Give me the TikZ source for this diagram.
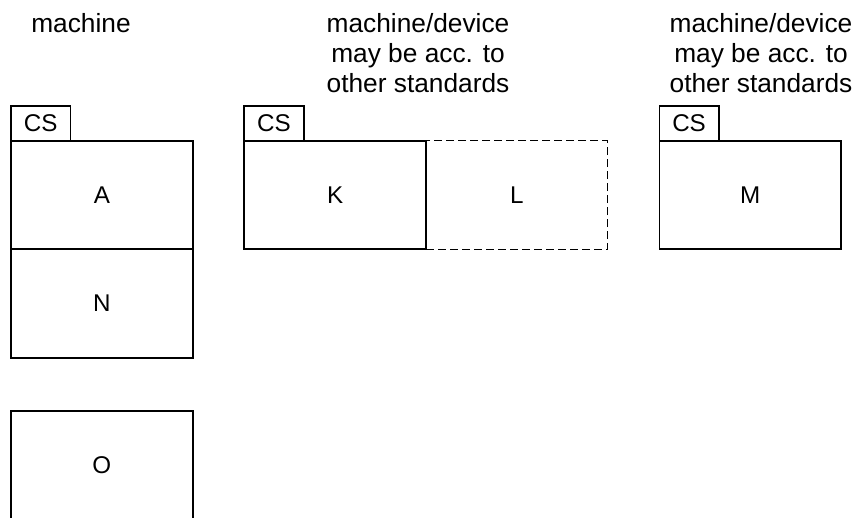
\documentclass[tikz,border=0pt]{standalone}
\usepackage{fontspec}
\setmainfont{Liberation Sans}
\begin{document}
\begin{tikzpicture}[x=1pt,y=-1pt,
  lbl/.style={font=\fontsize{24.2}{29}\selectfont},
  box/.style={draw, line width=1.6pt, minimum width=181.8pt, minimum height=108.5pt,
    inner sep=0pt, outer sep=0pt, lbl},
  dbox/.style={box, line width=1pt, dash pattern=on 8pt off 4pt},
  tab/.style={draw, line width=1.6pt, minimum width=59.5pt, minimum height=35pt,
    inner sep=0pt, outer sep=0pt, anchor=south west, lbl},
  head/.style={anchor=north, align=center, inner sep=0pt,
    font=\fontsize{26.3}{30}\selectfont}]
\useasboundingbox (0,0) rectangle (856,517);
% headings
\node[head] (h1) at (81,12.8) {machine};
\node[head] (h2) at (418,12.8) {machine/device\\may be acc. to\\other standards};
\node[head] (h3) at (761,12.8) {machine/device\\may be acc. to\\other standards};
% left column
\node[box] (A) at (101.9,195) {A};
\node[box, anchor=north] (N) at (A.south) {N};
\node[box] (O) at (101.9,465.3) {O};
\node[tab] (csA) at (A.north west) {CS};
% middle
\node[dbox] (L) at (516.9,195) {L};
\node[box] (K) at (335.15,195) {K};
\node[tab] (csK) at (K.north west) {CS};
% right
\node[box] (M) at (750.2,195) {M};
\node[tab] (csM) at (M.north west) {CS};
\end{tikzpicture}
\end{document}
